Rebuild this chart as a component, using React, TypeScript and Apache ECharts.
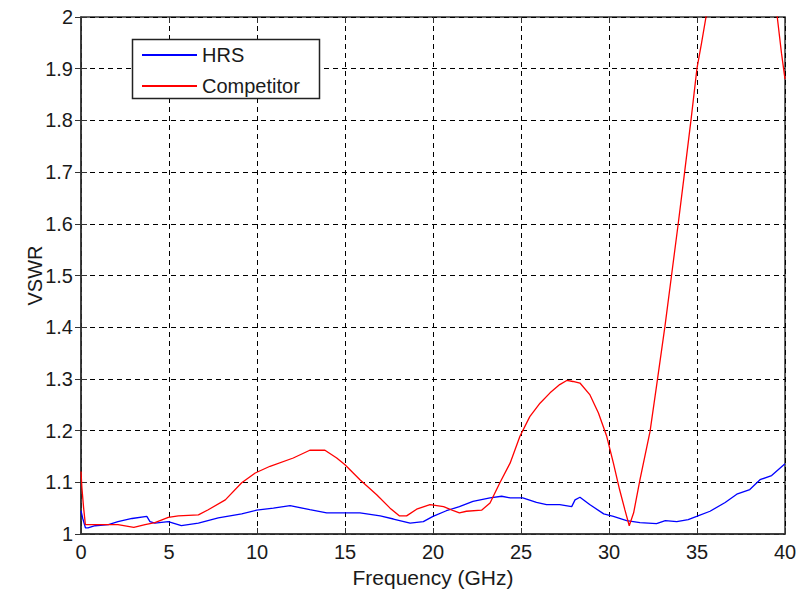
import React, { useEffect, useRef } from "react";
import * as echarts from "echarts";

const hrsFreq = [0, 0.1, 0.25, 0.4, 0.8, 1.56, 2.1, 2.9, 3.74, 3.92, 4.2, 4.96, 5.7, 6.67, 7.8, 9.13, 9.98, 10.93, 11.88, 13.0, 13.96, 15.85, 17.0, 17.75, 18.7, 19.45, 20.0, 20.76, 21.5, 22.27, 23.24, 23.9, 24.38, 25.1, 25.88, 26.45, 27.2, 27.88, 28.07, 28.35, 28.9, 29.7, 30.25, 31.0, 31.76, 32.7, 33.2, 33.85, 34.5, 34.98, 35.74, 36.6, 37.26, 38.0, 38.58, 39.24, 40.0];
const hrsVswr = [1.045, 1.03, 1.012, 1.012, 1.016, 1.018, 1.024, 1.03, 1.034, 1.024, 1.021, 1.024, 1.016, 1.021, 1.031, 1.039, 1.046, 1.05, 1.055, 1.047, 1.041, 1.041, 1.035, 1.029, 1.021, 1.024, 1.034, 1.045, 1.053, 1.063, 1.07, 1.073, 1.07, 1.07, 1.061, 1.057, 1.057, 1.053, 1.066, 1.071, 1.057, 1.039, 1.034, 1.026, 1.022, 1.02, 1.026, 1.024, 1.028, 1.034, 1.044, 1.061, 1.077, 1.086, 1.105, 1.113, 1.136];

const compFreq = [0, 0.05, 0.15, 0.25, 0.8, 2.1, 3.0, 3.64, 4.2, 4.96, 5.53, 6.67, 7.23, 8.2, 9.13, 9.9, 10.74, 12.06, 13.0, 13.86, 14.53, 15.0, 15.85, 16.8, 17.56, 18.1, 18.5, 19.07, 19.83, 20.6, 21.16, 21.5, 21.9, 22.76, 23.24, 23.8, 24.38, 24.94, 25.5, 26.08, 26.65, 27.2, 27.6, 27.95, 28.35, 28.92, 29.4, 29.87, 30.25, 30.6, 30.9, 31.15, 31.4, 31.76, 32.33, 32.7, 33.18, 33.56, 33.94, 34.3, 34.66, 35.0, 35.26, 35.5, 35.8, 39.3, 39.56, 39.8, 40.0];
const compVswr = [1.121, 1.09, 1.05, 1.018, 1.018, 1.018, 1.013, 1.018, 1.022, 1.032, 1.035, 1.037, 1.047, 1.066, 1.099, 1.118, 1.131, 1.147, 1.162, 1.162, 1.147, 1.134, 1.105, 1.076, 1.05, 1.035, 1.035, 1.048, 1.057, 1.053, 1.045, 1.041, 1.044, 1.046, 1.06, 1.099, 1.137, 1.189, 1.227, 1.253, 1.273, 1.289, 1.297, 1.295, 1.292, 1.269, 1.234, 1.189, 1.137, 1.086, 1.047, 1.016, 1.041, 1.105, 1.198, 1.286, 1.402, 1.502, 1.602, 1.701, 1.801, 1.901, 1.95, 1.998, 2.05, 2.05, 2.0, 1.93, 1.88];

const seriesNames = ["HRS", "Competitor"];
const xTitle = "Frequency (GHz)";
const yTitle = "VSWR";

const FONT = "Liberation Sans";
const TXT = "#1a1a1a";

export default function App() {
  const ref = useRef<HTMLDivElement>(null);
  useEffect(() => {
    if (!ref.current) return;
    const chart = echarts.init(ref.current, undefined, { renderer: "svg" });
    const zip = (xs: number[], ys: number[]) => xs.map((x, i) => [x, ys[i]]);
    const grid = { left: 81, right: 21, top: 17, bottom: 59 };
    const splitLine = { show: true, lineStyle: { color: "#000", type: [5, 4] as any, width: 1 } };
    chart.setOption({
      animation: false,
      backgroundColor: "#fff",
      textStyle: { fontFamily: FONT },
      grid: { ...grid, show: true, borderColor: "#333", borderWidth: 1.5, backgroundColor: "transparent" },
      xAxis: [
        {
          type: "value",
          min: 0,
          max: 40,
          interval: 5,
          name: xTitle,
          nameLocation: "middle",
          nameGap: 33,
          nameMoveOverlap: false,
          nameTextStyle: { fontSize: 21, color: TXT, fontFamily: FONT },
          axisLine: { show: true, lineStyle: { color: "#333", width: 1.5 } },
          axisTick: { show: true, inside: true, length: 6, lineStyle: { color: "#333" } },
          axisLabel: { fontSize: 20, color: TXT, margin: 8, fontFamily: FONT },
          splitLine,
        },
        {
          type: "value",
          min: 0,
          max: 40,
          interval: 5,
          position: "top",
          axisLine: { show: false },
          axisTick: { show: true, inside: true, length: 6, lineStyle: { color: "#333" } },
          axisLabel: { show: false },
          splitLine: { show: false },
        },
      ],
      yAxis: [
        {
          type: "value",
          min: 1,
          max: 2,
          interval: 0.1,
          name: yTitle,
          nameLocation: "middle",
          nameGap: 36,
          nameMoveOverlap: false,
          nameTextStyle: { fontSize: 20, color: TXT, fontFamily: FONT },
          axisLine: { show: true, lineStyle: { color: "#333", width: 1.5 } },
          axisTick: { show: true, inside: true, length: 6, lineStyle: { color: "#333" } },
          axisLabel: {
            fontSize: 20,
            color: TXT,
            margin: 8,
            fontFamily: FONT,
            formatter: (v: number) => String(Math.round(v * 10) / 10),
          },
          splitLine,
        },
        {
          type: "value",
          min: 1,
          max: 2,
          interval: 0.1,
          position: "right",
          axisLine: { show: false },
          axisTick: { show: true, inside: true, length: 6, lineStyle: { color: "#333" } },
          axisLabel: { show: false },
          splitLine: { show: false },
        },
      ],
      legend: {
        show: true,
        orient: "vertical",
        left: 142,
        top: 45,
        itemGap: 11,
        itemWidth: 55,
        itemHeight: 2,
        icon: "rect",
        itemStyle: { borderWidth: 0 },
        textStyle: { fontSize: 20, color: TXT, fontFamily: FONT, padding: [0, 0, 0, 0] },
        padding: 0,
        z: 10,
      },
      graphic: [
        {
          type: "rect",
          z: 5,
          shape: { x: 132.5, y: 39.5, width: 187, height: 59 },
          style: { fill: "#fff", stroke: "#222", lineWidth: 1.5 },
        },
      ],
      series: [
        {
          name: seriesNames[0],
          type: "line",
          data: zip(hrsFreq, hrsVswr),
          showSymbol: false,
          symbol: "none",
          lineStyle: { color: "#0000ff", width: 1.3 },
          itemStyle: { color: "#0000ff" },
          clip: true,
          z: 3,
        },
        {
          name: seriesNames[1],
          type: "line",
          data: zip(compFreq, compVswr),
          showSymbol: false,
          symbol: "none",
          lineStyle: { color: "#ff0000", width: 1.3 },
          itemStyle: { color: "#ff0000" },
          clip: true,
          z: 3,
        },
      ],
    });
    return () => chart.dispose();
  }, []);
  return <div ref={ref} style={{ position: "fixed", left: 0, top: 0, width: 806, height: 593 }} />;
}
